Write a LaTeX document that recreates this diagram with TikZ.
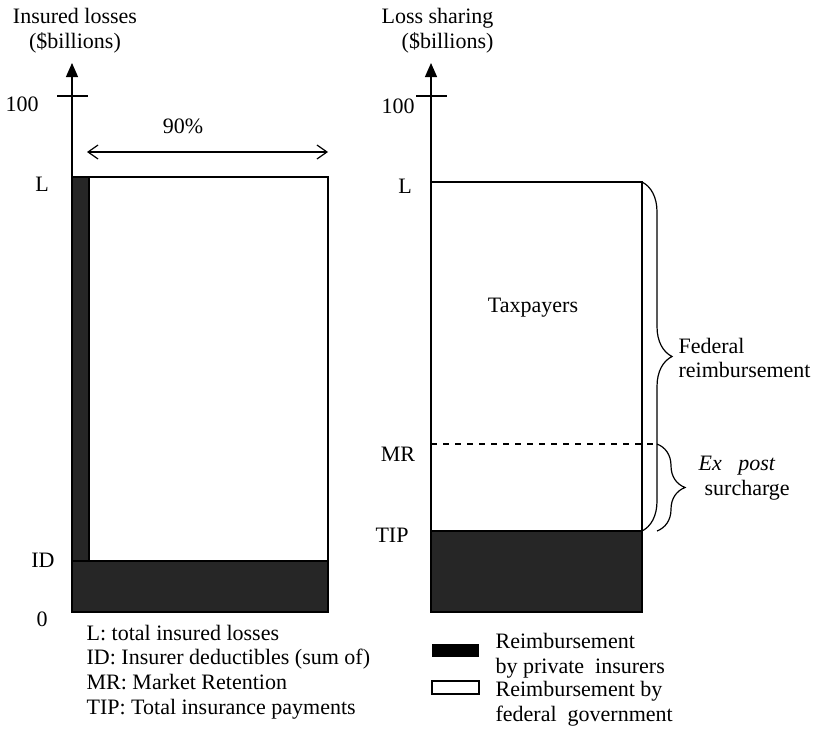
\documentclass[tikz,border=0pt]{standalone}
\usepackage{fontspec}
\setmainfont{Liberation Serif}
\usetikzlibrary{arrows.meta,decorations.pathreplacing}

\tikzset{
  txt/.style={font=\fontsize{11}{12.3}\selectfont, inner sep=0pt},
  dark/.style={fill=black!85, draw=black},
  axis/.style={-{Triangle[length=7pt,width=6pt]}},
  brace/.style={decorate, decoration={brace, amplitude=#1}}
}

\begin{document}
\begin{tikzpicture}[x=0.5pt, y=-0.5pt, line width=0.6pt]
    \useasboundingbox (0,0) rectangle (817,728);

    % linkes Diagramm: versicherte Schaeden
    \node[txt, align=center] (titleA) at (75,31) {Insured losses\\(\$billions)};
    \draw[axis] (72,612) -- (72,63);
    \draw (57,96) -- (88,96);
    \node[txt] (hundredA) at (22,104) {100};
    \fill[dark] (72,177) rectangle (89,561);
    \fill[dark] (72,561) rectangle (328,612);
    \draw (72,177) rectangle (328,612);
    \draw[{Straight Barb[length=5pt,width=7pt]}-{Straight Barb[length=5pt,width=7pt]}] (87,152) -- (328,152);
    \node[txt] (pct) at (183,126) {90\%};
    \node[txt] (lblLA) at (42,184) {L};
    \node[txt] (lblID) at (43,560) {ID};
    \node[txt] (lblZero) at (42,619) {0};
    \node[txt, align=left, anchor=west] (keyA) at (86,672)
        {L: total insured losses\\ID: Insurer deductibles (sum of)\\MR: Market Retention\\TIP: Total insurance payments};

    % rechtes Diagramm: Aufteilung
    \node[txt, align=right, anchor=east] (titleB) at (494,31) {Loss sharing\\(\$billions)};
    \draw[axis] (431,612) -- (431,63);
    \draw (416,96) -- (447,96);
    \node[txt] (hundredB) at (398,106) {100};
    \fill[dark] (431,531) rectangle (642,612);
    \draw (431,182) rectangle (642,612);
    \draw[dashed] (431,444) -- (657,444);
    \node[txt] (tax) at (533,308) {Taxpayers};
    \node[txt] (lblLB) at (405,186) {L};
    \node[txt] (lblMR) at (398,454) {MR};
    \node[txt] (lblTIP) at (392,535) {TIP};

    % Klammern
    \draw[brace=15pt] (642,182) -- (642,531);
    \node[txt, align=left, anchor=west] (fed) at (678,358) {Federal\\reimbursement};
    \draw[brace=14pt] (657,444) -- (657,531);
    \node[txt, align=left, anchor=west] (expost) at (698,478) {\textit{Ex\ \ \ post}\\\hspace*{3pt}surcharge};

    % Legende
    \fill[black] (432,644) rectangle (479,657);
    \draw (432,681) rectangle (479,694);
    \node[txt, align=left, anchor=west] (keyPriv) at (495,656) {Reimbursement\\by private\ \ insurers};
    \node[txt, align=left, anchor=west] (keyFed) at (495,704) {Reimbursement by\\federal\ \ government};
\end{tikzpicture}
\end{document}
